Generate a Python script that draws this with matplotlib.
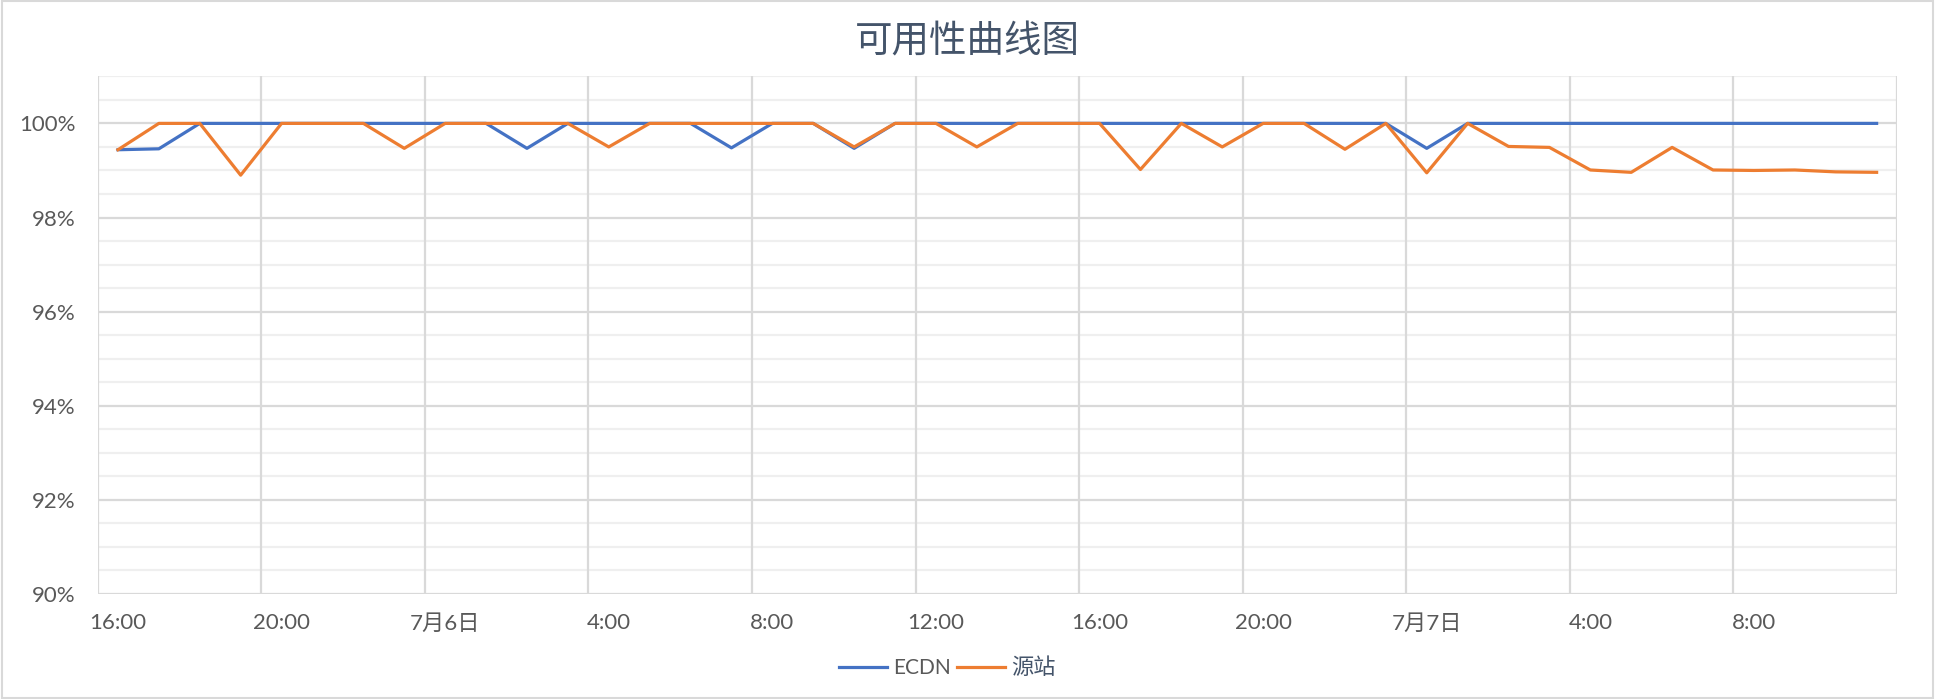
import numpy as np
import matplotlib
matplotlib.use("Agg")
from matplotlib import pyplot as plt
from matplotlib.patches import Rectangle

plt.rcParams['font.family'] = ['Lato', 'Noto Sans CJK SC', 'DejaVu Sans']

# hourly availability, 7/5 16:00 .. 7/7 11:00
ecdn = [99.44, 99.46, 100, 100, 100, 100, 100, 100, 100, 100,
        99.47, 100, 100, 100, 100, 99.48, 100, 100, 99.47, 100,
        100, 100, 100, 100, 100, 100, 100, 100, 100, 100,
        100, 100, 99.47, 100, 100, 100, 100, 100, 100, 100,
        100, 100, 100, 100]
origin = [99.44, 100, 100, 98.9, 100, 100, 100, 99.47, 100, 100,
          100, 100, 99.5, 100, 100, 100, 100, 100, 99.5, 100,
          100, 99.5, 100, 100, 100, 99.02, 100, 99.5, 100, 100,
          99.45, 100, 98.95, 100, 99.51, 99.49, 99.01, 98.96, 99.49, 99.01,
          99.0, 99.01, 98.97, 98.96]
tick_labels = ['16:00', '20:00', '7月6日', '4:00', '8:00', '12:00',
               '16:00', '20:00', '7月7日', '4:00', '8:00']
series_names = ['ECDN', '源站']

x = np.arange(len(ecdn))

fig = plt.figure(figsize=(19.35, 6.99), dpi=100)
ax = fig.add_axes([0.0504, 0.1502, 0.930, 0.7406])

# gridlines
grid_major = '#d9d9d9'
grid_minor = '#efefef'
for yv in np.arange(90, 101.01, 0.5):
    c = grid_major if abs(yv % 2) < 1e-6 else grid_minor
    ax.axhline(yv, color=c, lw=1.6, zorder=0)
for xv in np.arange(3.5, 43.6, 4):
    ax.axvline(xv, color=grid_major, lw=1.6, zorder=0)
ax.axvline(-0.5, color=grid_major, lw=1.6, zorder=0)

ax.plot(x, ecdn, color='#4472c4', lw=2.3, label=series_names[0], zorder=3)
ax.plot(x, origin, color='#ed7d31', lw=2.3, label=series_names[1], zorder=4)

ax.set_xlim(-0.5, len(ecdn) - 0.5)
ax.set_ylim(90, 101)
for s in ax.spines.values():
    s.set_visible(False)

ax.set_xticks(x[::4])
ax.set_xticklabels(tick_labels)
ax.set_yticks(np.arange(90, 101, 2))
ax.set_yticklabels(['%d%%' % v for v in range(90, 101, 2)])
ax.tick_params(length=0, labelsize=16, labelcolor='#595959')
ax.tick_params(axis='x', pad=14)
ax.tick_params(axis='y', pad=16)

fig.text(0.5, 1 - 42 / 699, '可用性曲线图', ha='center', va='center',
         fontsize=27, color='#44546a', family=['Noto Sans CJK SC'])

leg = fig.legend(loc='center', bbox_to_anchor=(947 / 1935, 1 - 668 / 699),
                 ncol=2, frameon=False, fontsize=15, handlelength=2.3,
                 columnspacing=0.3, handletextpad=0.3)
for t, c in zip(leg.get_texts(), ['#595959', '#44546a']):
    t.set_color(c)
leg.get_texts()[1].set_fontsize(16)

# chart area border
fig.patches.append(Rectangle((0.0008, 0.0015), 0.9984, 0.997, transform=fig.transFigure,
                             fill=False, edgecolor='#d9d9d9', lw=1.5))

fig.savefig('out.png', dpi=100)
